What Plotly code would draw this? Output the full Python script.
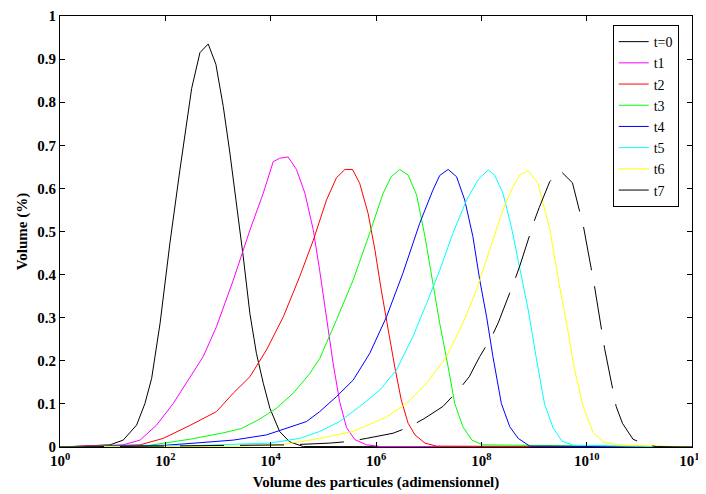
import plotly.graph_objects as go

# log10 of particle volume and volume fraction for each curve
lx_t0 = [0, 0.95, 1.20, 1.455, 1.613, 1.74, 1.90, 2.087, 2.277, 2.40, 2.50, 2.657, 2.814, 2.96, 3.10,
         3.226, 3.353, 3.48, 3.605, 3.73, 3.86, 3.985, 4.17, 4.36, 4.62, 12]
y_t0 = [0, 0.005, 0.016, 0.051, 0.101, 0.159, 0.287, 0.473, 0.643, 0.743, 0.832, 0.915, 0.935, 0.888, 0.79,
        0.682, 0.565, 0.441, 0.31, 0.217, 0.148, 0.09, 0.036, 0.012, 0.001, 0]

lx_t1 = [0, 1.2, 1.52, 1.835, 2.15, 2.467, 2.72, 2.97, 3.29, 3.605, 3.86, 4.048, 4.17, 4.33, 4.49, 4.65,
         4.81, 4.93, 5.06, 5.186, 5.31, 5.44, 5.6, 5.82, 6.1, 12]
y_t1 = [0, 0.005, 0.016, 0.051, 0.101, 0.163, 0.21, 0.279, 0.387, 0.503, 0.589, 0.662, 0.670, 0.673, 0.644, 0.589,
        0.503, 0.41, 0.295, 0.194, 0.105, 0.045, 0.017, 0.005, 0.001, 0]

lx_t2 = [0, 1.52, 1.96, 2.467, 2.97, 3.29, 3.605, 3.92, 4.24, 4.55, 4.81, 5.06, 5.25, 5.41, 5.554, 5.69,
         5.85, 5.98, 6.10, 6.23, 6.356, 6.48, 6.61, 6.74, 6.93, 7.15, 12]
y_t2 = [0, 0.005, 0.02, 0.05, 0.082, 0.125, 0.163, 0.225, 0.302, 0.395, 0.48, 0.573, 0.625, 0.644, 0.644, 0.612,
        0.542, 0.457, 0.364, 0.271, 0.186, 0.109, 0.055, 0.028, 0.009, 0.002, 0]

lx_t3 = [0, 1.7, 2.467, 3.07, 3.45, 3.795, 4.11, 4.43, 4.74, 4.93, 5.25, 5.565, 5.88, 6.135, 6.29,
         6.45, 6.61, 6.77, 6.93, 7.08, 7.21, 7.37, 7.495, 7.65, 7.82, 8.03, 12]
y_t3 = [0, 0.004, 0.018, 0.032, 0.043, 0.065, 0.09, 0.125, 0.17, 0.205, 0.295, 0.387, 0.496, 0.589, 0.627,
        0.644, 0.631, 0.585, 0.488, 0.38, 0.287, 0.186, 0.101, 0.047, 0.016, 0.005, 0]

lx_t4 = [0, 2.0, 2.66, 3.29, 3.92, 4.30, 4.68, 4.93, 5.25, 5.565, 5.88, 6.2, 6.51, 6.83, 7.08,
         7.21, 7.37, 7.53, 7.685, 7.84, 7.97, 8.10, 8.22, 8.38, 8.54, 8.70, 8.92, 12]
y_t4 = [0, 0.004, 0.01, 0.016, 0.028, 0.043, 0.059, 0.082, 0.117, 0.155, 0.217, 0.302, 0.403, 0.519, 0.596,
        0.63, 0.644, 0.627, 0.573, 0.488, 0.387, 0.302, 0.21, 0.101, 0.047, 0.02, 0.002, 0]

lx_t5 = [0, 2.5, 3.985, 4.55, 4.93, 5.31, 5.69, 6.07, 6.39, 6.70, 6.96, 7.21, 7.46, 7.72, 7.94,
         8.13, 8.25, 8.41, 8.57, 8.73, 8.89, 9.045, 9.2, 9.36, 9.53, 9.74, 12]
y_t5 = [0, 0.003, 0.009, 0.02, 0.036, 0.059, 0.094, 0.132, 0.179, 0.256, 0.333, 0.41, 0.496, 0.573, 0.62,
        0.643, 0.631, 0.589, 0.511, 0.418, 0.318, 0.205, 0.1, 0.045, 0.014, 0.004, 0]

lx_t6 = [0, 3.5, 4.24, 4.93, 5.565, 6.2, 6.58, 6.96, 7.34, 7.65, 7.905, 8.16, 8.41, 8.60, 8.73,
         8.886, 9.075, 9.30, 9.475, 9.63, 9.77, 9.93, 10.12, 10.31, 10.56, 12]
y_t6 = [0, 0.002, 0.006, 0.02, 0.036, 0.07, 0.101, 0.148, 0.21, 0.287, 0.364, 0.457, 0.55, 0.604, 0.631,
        0.641, 0.612, 0.505, 0.38, 0.28, 0.18, 0.095, 0.034, 0.012, 0.005, 0]

lx_t7 = [0, 4.36, 5.12, 5.5, 5.82, 6.325, 6.64, 6.93, 7.27, 7.58, 7.77, 7.97, 8.19, 8.32, 8.63, 8.73,
         9.0, 9.10, 9.30, 9.50, 9.73, 9.94, 10.15, 10.34, 10.56, 10.68, 10.88, 11.13, 11.32, 12]
y_t7 = [0, 0.005, 0.009, 0.013, 0.02, 0.032, 0.047, 0.067, 0.094, 0.134, 0.163, 0.21, 0.254, 0.288, 0.386, 0.42,
        0.523, 0.556, 0.616, 0.641, 0.613, 0.511, 0.372, 0.229, 0.094, 0.055, 0.018, 0.005, 0.001, 0]

names = ["t=0", "t1", "t2", "t3", "t4", "t5", "t6", "t7"]
series_lx = [lx_t0, lx_t1, lx_t2, lx_t3, lx_t4, lx_t5, lx_t6, lx_t7]
series_y = [y_t0, y_t1, y_t2, y_t3, y_t4, y_t5, y_t6, y_t7]
colors = ["#000000", "#ff00ff", "#ff0000", "#00ff00", "#0000ff", "#00ffff", "#ffff00", "#000000"]
dashes = ["solid"] * 7 + ["44px,16px"]

x_tick_exp = [0, 2, 4, 6, 8, 10, 12]

SERIF = "Liberation Serif"

fig = go.Figure()
for nm, lx, yy, c, d in zip(names, series_lx, series_y, colors, dashes):
    fig.add_trace(go.Scatter(
        x=[10 ** v for v in lx], y=yy, mode="lines", name=nm,
        line=dict(color=c, width=1, dash=d),
    ))

# page body has an 8px margin, so the figure is offset by 8px
fig.update_layout(
    width=698, height=486,
    margin=dict(l=52, r=14, t=8, b=47),
    paper_bgcolor="white", plot_bgcolor="white",
    showlegend=True,
    legend=dict(
        x=0.979, y=0.979, xanchor="right", yanchor="top",
        bgcolor="white", bordercolor="black", borderwidth=1,
        font=dict(family=SERIF, size=14, color="black"),
        tracegroupgap=0, itemwidth=30,
    ),
)

fig.update_xaxes(
    type="log", range=[0, 12],
    tickvals=[10 ** k for k in x_tick_exp],
    ticktext=[f"10<sup>{k}</sup>" for k in x_tick_exp],
    ticks="inside", ticklen=5, tickcolor="black",
    showline=True, linecolor="black", linewidth=1, mirror="ticks",
    showgrid=False, zeroline=False, automargin=False,
    tickfont=dict(family=SERIF, size=15, color="black", weight="bold"),
    title=dict(text="Volume des particules (adimensionnel)", standoff=8,
               font=dict(family=SERIF, size=15, color="black", weight="bold")),
)
fig.update_yaxes(
    range=[0, 1], dtick=0.1, tick0=0,
    ticks="inside", ticklen=5, tickcolor="black",
    showline=True, linecolor="black", linewidth=1, mirror="ticks",
    showgrid=False, zeroline=False, automargin=False,
    tickfont=dict(family=SERIF, size=15, color="black", weight="bold"),
    title=dict(text="Volume (%)", standoff=6,
               font=dict(family=SERIF, size=15, color="black", weight="bold")),
)

fig.write_html("out.html")
